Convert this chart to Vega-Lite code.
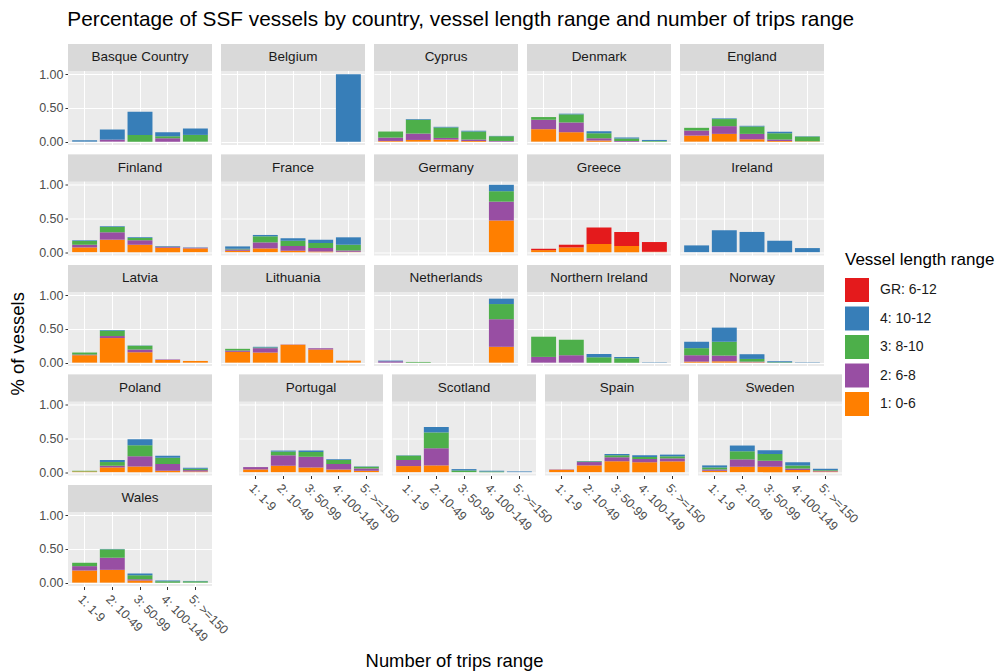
{
"$schema": "https://vega.github.io/schema/vega-lite/v6.json",
"background": "white",
"padding": {"left": 9, "top": 9, "right": 5, "bottom": 5},
"title": {"text": "Percentage of SSF vessels by country, vessel length range and number of trips range", "anchor": "start", "dx": 58, "fontSize": 20.8, "fontWeight": "normal", "font": "Liberation Sans", "color": "#000000", "offset": 13},
"datasets": {"rows": [
{"country":"Basque Country","trips":"1: 1-9","len":"4: 10-12","pct":0.02},
{"country":"Basque Country","trips":"2: 10-49","len":"2: 6-8","pct":0.03},
{"country":"Basque Country","trips":"2: 10-49","len":"4: 10-12","pct":0.15},
{"country":"Basque Country","trips":"3: 50-99","len":"3: 8-10","pct":0.10},
{"country":"Basque Country","trips":"3: 50-99","len":"4: 10-12","pct":0.345},
{"country":"Basque Country","trips":"4: 100-149","len":"2: 6-8","pct":0.05},
{"country":"Basque Country","trips":"4: 100-149","len":"3: 8-10","pct":0.03},
{"country":"Basque Country","trips":"4: 100-149","len":"4: 10-12","pct":0.06},
{"country":"Basque Country","trips":"5: >=150","len":"3: 8-10","pct":0.10},
{"country":"Basque Country","trips":"5: >=150","len":"4: 10-12","pct":0.095},
{"country":"Belgium","trips":"5: >=150","len":"4: 10-12","pct":1.0},
{"country":"Cyprus","trips":"1: 1-9","len":"1: 0-6","pct":0.01},
{"country":"Cyprus","trips":"1: 1-9","len":"2: 6-8","pct":0.05},
{"country":"Cyprus","trips":"1: 1-9","len":"3: 8-10","pct":0.09},
{"country":"Cyprus","trips":"2: 10-49","len":"1: 0-6","pct":0.025},
{"country":"Cyprus","trips":"2: 10-49","len":"2: 6-8","pct":0.095},
{"country":"Cyprus","trips":"2: 10-49","len":"3: 8-10","pct":0.205},
{"country":"Cyprus","trips":"2: 10-49","len":"4: 10-12","pct":0.01},
{"country":"Cyprus","trips":"3: 50-99","len":"1: 0-6","pct":0.03},
{"country":"Cyprus","trips":"3: 50-99","len":"2: 6-8","pct":0.025},
{"country":"Cyprus","trips":"3: 50-99","len":"3: 8-10","pct":0.155},
{"country":"Cyprus","trips":"3: 50-99","len":"4: 10-12","pct":0.01},
{"country":"Cyprus","trips":"4: 100-149","len":"1: 0-6","pct":0.01},
{"country":"Cyprus","trips":"4: 100-149","len":"2: 6-8","pct":0.02},
{"country":"Cyprus","trips":"4: 100-149","len":"3: 8-10","pct":0.12},
{"country":"Cyprus","trips":"4: 100-149","len":"4: 10-12","pct":0.01},
{"country":"Cyprus","trips":"5: >=150","len":"2: 6-8","pct":0.01},
{"country":"Cyprus","trips":"5: >=150","len":"3: 8-10","pct":0.07},
{"country":"Cyprus","trips":"5: >=150","len":"4: 10-12","pct":0.005},
{"country":"Denmark","trips":"1: 1-9","len":"1: 0-6","pct":0.185},
{"country":"Denmark","trips":"1: 1-9","len":"2: 6-8","pct":0.14},
{"country":"Denmark","trips":"1: 1-9","len":"3: 8-10","pct":0.04},
{"country":"Denmark","trips":"2: 10-49","len":"1: 0-6","pct":0.14},
{"country":"Denmark","trips":"2: 10-49","len":"2: 6-8","pct":0.145},
{"country":"Denmark","trips":"2: 10-49","len":"3: 8-10","pct":0.12},
{"country":"Denmark","trips":"2: 10-49","len":"4: 10-12","pct":0.01},
{"country":"Denmark","trips":"3: 50-99","len":"1: 0-6","pct":0.015},
{"country":"Denmark","trips":"3: 50-99","len":"2: 6-8","pct":0.035},
{"country":"Denmark","trips":"3: 50-99","len":"3: 8-10","pct":0.075},
{"country":"Denmark","trips":"3: 50-99","len":"4: 10-12","pct":0.03},
{"country":"Denmark","trips":"4: 100-149","len":"2: 6-8","pct":0.01},
{"country":"Denmark","trips":"4: 100-149","len":"3: 8-10","pct":0.035},
{"country":"Denmark","trips":"4: 100-149","len":"4: 10-12","pct":0.015},
{"country":"Denmark","trips":"5: >=150","len":"3: 8-10","pct":0.01},
{"country":"Denmark","trips":"5: >=150","len":"4: 10-12","pct":0.015},
{"country":"England","trips":"1: 1-9","len":"1: 0-6","pct":0.09},
{"country":"England","trips":"1: 1-9","len":"2: 6-8","pct":0.075},
{"country":"England","trips":"1: 1-9","len":"3: 8-10","pct":0.04},
{"country":"England","trips":"2: 10-49","len":"1: 0-6","pct":0.115},
{"country":"England","trips":"2: 10-49","len":"2: 6-8","pct":0.115},
{"country":"England","trips":"2: 10-49","len":"3: 8-10","pct":0.105},
{"country":"England","trips":"2: 10-49","len":"4: 10-12","pct":0.01},
{"country":"England","trips":"3: 50-99","len":"1: 0-6","pct":0.035},
{"country":"England","trips":"3: 50-99","len":"2: 6-8","pct":0.08},
{"country":"England","trips":"3: 50-99","len":"3: 8-10","pct":0.11},
{"country":"England","trips":"3: 50-99","len":"4: 10-12","pct":0.01},
{"country":"England","trips":"4: 100-149","len":"1: 0-6","pct":0.01},
{"country":"England","trips":"4: 100-149","len":"2: 6-8","pct":0.02},
{"country":"England","trips":"4: 100-149","len":"3: 8-10","pct":0.095},
{"country":"England","trips":"4: 100-149","len":"4: 10-12","pct":0.02},
{"country":"England","trips":"5: >=150","len":"1: 0-6","pct":0.005},
{"country":"England","trips":"5: >=150","len":"3: 8-10","pct":0.07},
{"country":"England","trips":"5: >=150","len":"4: 10-12","pct":0.005},
{"country":"Finland","trips":"1: 1-9","len":"1: 0-6","pct":0.07},
{"country":"Finland","trips":"1: 1-9","len":"2: 6-8","pct":0.04},
{"country":"Finland","trips":"1: 1-9","len":"3: 8-10","pct":0.055},
{"country":"Finland","trips":"1: 1-9","len":"4: 10-12","pct":0.01},
{"country":"Finland","trips":"2: 10-49","len":"1: 0-6","pct":0.185},
{"country":"Finland","trips":"2: 10-49","len":"2: 6-8","pct":0.11},
{"country":"Finland","trips":"2: 10-49","len":"3: 8-10","pct":0.08},
{"country":"Finland","trips":"2: 10-49","len":"4: 10-12","pct":0.01},
{"country":"Finland","trips":"3: 50-99","len":"1: 0-6","pct":0.11},
{"country":"Finland","trips":"3: 50-99","len":"2: 6-8","pct":0.065},
{"country":"Finland","trips":"3: 50-99","len":"3: 8-10","pct":0.035},
{"country":"Finland","trips":"3: 50-99","len":"4: 10-12","pct":0.01},
{"country":"Finland","trips":"4: 100-149","len":"1: 0-6","pct":0.065},
{"country":"Finland","trips":"4: 100-149","len":"2: 6-8","pct":0.015},
{"country":"Finland","trips":"4: 100-149","len":"3: 8-10","pct":0.005},
{"country":"Finland","trips":"4: 100-149","len":"4: 10-12","pct":0.005},
{"country":"Finland","trips":"5: >=150","len":"1: 0-6","pct":0.055},
{"country":"Finland","trips":"5: >=150","len":"2: 6-8","pct":0.01},
{"country":"Finland","trips":"5: >=150","len":"4: 10-12","pct":0.005},
{"country":"France","trips":"1: 1-9","len":"1: 0-6","pct":0.02},
{"country":"France","trips":"1: 1-9","len":"2: 6-8","pct":0.02},
{"country":"France","trips":"1: 1-9","len":"3: 8-10","pct":0.01},
{"country":"France","trips":"1: 1-9","len":"4: 10-12","pct":0.035},
{"country":"France","trips":"2: 10-49","len":"1: 0-6","pct":0.055},
{"country":"France","trips":"2: 10-49","len":"2: 6-8","pct":0.09},
{"country":"France","trips":"2: 10-49","len":"3: 8-10","pct":0.09},
{"country":"France","trips":"2: 10-49","len":"4: 10-12","pct":0.02},
{"country":"France","trips":"3: 50-99","len":"1: 0-6","pct":0.02},
{"country":"France","trips":"3: 50-99","len":"2: 6-8","pct":0.07},
{"country":"France","trips":"3: 50-99","len":"3: 8-10","pct":0.08},
{"country":"France","trips":"3: 50-99","len":"4: 10-12","pct":0.035},
{"country":"France","trips":"4: 100-149","len":"1: 0-6","pct":0.01},
{"country":"France","trips":"4: 100-149","len":"2: 6-8","pct":0.05},
{"country":"France","trips":"4: 100-149","len":"3: 8-10","pct":0.075},
{"country":"France","trips":"4: 100-149","len":"4: 10-12","pct":0.05},
{"country":"France","trips":"5: >=150","len":"1: 0-6","pct":0.005},
{"country":"France","trips":"5: >=150","len":"2: 6-8","pct":0.02},
{"country":"France","trips":"5: >=150","len":"3: 8-10","pct":0.085},
{"country":"France","trips":"5: >=150","len":"4: 10-12","pct":0.11},
{"country":"Germany","trips":"5: >=150","len":"1: 0-6","pct":0.47},
{"country":"Germany","trips":"5: >=150","len":"2: 6-8","pct":0.28},
{"country":"Germany","trips":"5: >=150","len":"3: 8-10","pct":0.155},
{"country":"Germany","trips":"5: >=150","len":"4: 10-12","pct":0.095},
{"country":"Greece","trips":"1: 1-9","len":"1: 0-6","pct":0.03},
{"country":"Greece","trips":"1: 1-9","len":"GR: 6-12","pct":0.02},
{"country":"Greece","trips":"2: 10-49","len":"1: 0-6","pct":0.07},
{"country":"Greece","trips":"2: 10-49","len":"GR: 6-12","pct":0.04},
{"country":"Greece","trips":"3: 50-99","len":"1: 0-6","pct":0.12},
{"country":"Greece","trips":"3: 50-99","len":"GR: 6-12","pct":0.245},
{"country":"Greece","trips":"4: 100-149","len":"1: 0-6","pct":0.09},
{"country":"Greece","trips":"4: 100-149","len":"GR: 6-12","pct":0.21},
{"country":"Greece","trips":"5: >=150","len":"1: 0-6","pct":0.005},
{"country":"Greece","trips":"5: >=150","len":"GR: 6-12","pct":0.145},
{"country":"Ireland","trips":"1: 1-9","len":"4: 10-12","pct":0.10},
{"country":"Ireland","trips":"2: 10-49","len":"4: 10-12","pct":0.325},
{"country":"Ireland","trips":"3: 50-99","len":"4: 10-12","pct":0.30},
{"country":"Ireland","trips":"4: 100-149","len":"4: 10-12","pct":0.17},
{"country":"Ireland","trips":"5: >=150","len":"4: 10-12","pct":0.06},
{"country":"Latvia","trips":"1: 1-9","len":"1: 0-6","pct":0.11},
{"country":"Latvia","trips":"1: 1-9","len":"2: 6-8","pct":0.01},
{"country":"Latvia","trips":"1: 1-9","len":"3: 8-10","pct":0.03},
{"country":"Latvia","trips":"2: 10-49","len":"1: 0-6","pct":0.365},
{"country":"Latvia","trips":"2: 10-49","len":"2: 6-8","pct":0.03},
{"country":"Latvia","trips":"2: 10-49","len":"3: 8-10","pct":0.08},
{"country":"Latvia","trips":"2: 10-49","len":"4: 10-12","pct":0.01},
{"country":"Latvia","trips":"3: 50-99","len":"1: 0-6","pct":0.155},
{"country":"Latvia","trips":"3: 50-99","len":"2: 6-8","pct":0.04},
{"country":"Latvia","trips":"3: 50-99","len":"3: 8-10","pct":0.055},
{"country":"Latvia","trips":"3: 50-99","len":"4: 10-12","pct":0.005},
{"country":"Latvia","trips":"4: 100-149","len":"1: 0-6","pct":0.04},
{"country":"Latvia","trips":"4: 100-149","len":"2: 6-8","pct":0.005},
{"country":"Latvia","trips":"5: >=150","len":"1: 0-6","pct":0.025},
{"country":"Lithuania","trips":"1: 1-9","len":"1: 0-6","pct":0.16},
{"country":"Lithuania","trips":"1: 1-9","len":"2: 6-8","pct":0.02},
{"country":"Lithuania","trips":"1: 1-9","len":"3: 8-10","pct":0.025},
{"country":"Lithuania","trips":"2: 10-49","len":"1: 0-6","pct":0.15},
{"country":"Lithuania","trips":"2: 10-49","len":"2: 6-8","pct":0.065},
{"country":"Lithuania","trips":"2: 10-49","len":"3: 8-10","pct":0.01},
{"country":"Lithuania","trips":"2: 10-49","len":"4: 10-12","pct":0.01},
{"country":"Lithuania","trips":"3: 50-99","len":"1: 0-6","pct":0.265},
{"country":"Lithuania","trips":"3: 50-99","len":"2: 6-8","pct":0.005},
{"country":"Lithuania","trips":"4: 100-149","len":"1: 0-6","pct":0.195},
{"country":"Lithuania","trips":"4: 100-149","len":"2: 6-8","pct":0.02},
{"country":"Lithuania","trips":"5: >=150","len":"1: 0-6","pct":0.03},
{"country":"Netherlands","trips":"1: 1-9","len":"2: 6-8","pct":0.02},
{"country":"Netherlands","trips":"1: 1-9","len":"4: 10-12","pct":0.01},
{"country":"Netherlands","trips":"2: 10-49","len":"3: 8-10","pct":0.01},
{"country":"Netherlands","trips":"5: >=150","len":"1: 0-6","pct":0.235},
{"country":"Netherlands","trips":"5: >=150","len":"2: 6-8","pct":0.41},
{"country":"Netherlands","trips":"5: >=150","len":"3: 8-10","pct":0.225},
{"country":"Netherlands","trips":"5: >=150","len":"4: 10-12","pct":0.08},
{"country":"Northern Ireland","trips":"1: 1-9","len":"2: 6-8","pct":0.085},
{"country":"Northern Ireland","trips":"1: 1-9","len":"3: 8-10","pct":0.30},
{"country":"Northern Ireland","trips":"2: 10-49","len":"2: 6-8","pct":0.11},
{"country":"Northern Ireland","trips":"2: 10-49","len":"3: 8-10","pct":0.23},
{"country":"Northern Ireland","trips":"3: 50-99","len":"3: 8-10","pct":0.08},
{"country":"Northern Ireland","trips":"3: 50-99","len":"4: 10-12","pct":0.05},
{"country":"Northern Ireland","trips":"4: 100-149","len":"3: 8-10","pct":0.065},
{"country":"Northern Ireland","trips":"4: 100-149","len":"4: 10-12","pct":0.02},
{"country":"Northern Ireland","trips":"5: >=150","len":"4: 10-12","pct":0.005},
{"country":"Norway","trips":"1: 1-9","len":"1: 0-6","pct":0.015},
{"country":"Norway","trips":"1: 1-9","len":"2: 6-8","pct":0.095},
{"country":"Norway","trips":"1: 1-9","len":"3: 8-10","pct":0.105},
{"country":"Norway","trips":"1: 1-9","len":"4: 10-12","pct":0.095},
{"country":"Norway","trips":"2: 10-49","len":"1: 0-6","pct":0.02},
{"country":"Norway","trips":"2: 10-49","len":"2: 6-8","pct":0.085},
{"country":"Norway","trips":"2: 10-49","len":"3: 8-10","pct":0.205},
{"country":"Norway","trips":"2: 10-49","len":"4: 10-12","pct":0.21},
{"country":"Norway","trips":"3: 50-99","len":"1: 0-6","pct":0.005},
{"country":"Norway","trips":"3: 50-99","len":"2: 6-8","pct":0.01},
{"country":"Norway","trips":"3: 50-99","len":"3: 8-10","pct":0.04},
{"country":"Norway","trips":"3: 50-99","len":"4: 10-12","pct":0.07},
{"country":"Norway","trips":"4: 100-149","len":"3: 8-10","pct":0.005},
{"country":"Norway","trips":"4: 100-149","len":"4: 10-12","pct":0.015},
{"country":"Norway","trips":"5: >=150","len":"4: 10-12","pct":0.005},
{"country":"Poland","trips":"1: 1-9","len":"1: 0-6","pct":0.01},
{"country":"Poland","trips":"1: 1-9","len":"3: 8-10","pct":0.01},
{"country":"Poland","trips":"2: 10-49","len":"1: 0-6","pct":0.07},
{"country":"Poland","trips":"2: 10-49","len":"2: 6-8","pct":0.025},
{"country":"Poland","trips":"2: 10-49","len":"3: 8-10","pct":0.055},
{"country":"Poland","trips":"2: 10-49","len":"4: 10-12","pct":0.03},
{"country":"Poland","trips":"3: 50-99","len":"1: 0-6","pct":0.085},
{"country":"Poland","trips":"3: 50-99","len":"2: 6-8","pct":0.15},
{"country":"Poland","trips":"3: 50-99","len":"3: 8-10","pct":0.165},
{"country":"Poland","trips":"3: 50-99","len":"4: 10-12","pct":0.09},
{"country":"Poland","trips":"4: 100-149","len":"1: 0-6","pct":0.02},
{"country":"Poland","trips":"4: 100-149","len":"2: 6-8","pct":0.10},
{"country":"Poland","trips":"4: 100-149","len":"3: 8-10","pct":0.095},
{"country":"Poland","trips":"4: 100-149","len":"4: 10-12","pct":0.03},
{"country":"Poland","trips":"5: >=150","len":"1: 0-6","pct":0.01},
{"country":"Poland","trips":"5: >=150","len":"2: 6-8","pct":0.02},
{"country":"Poland","trips":"5: >=150","len":"3: 8-10","pct":0.02},
{"country":"Poland","trips":"5: >=150","len":"4: 10-12","pct":0.015},
{"country":"Portugal","trips":"1: 1-9","len":"1: 0-6","pct":0.04},
{"country":"Portugal","trips":"1: 1-9","len":"2: 6-8","pct":0.035},
{"country":"Portugal","trips":"2: 10-49","len":"1: 0-6","pct":0.095},
{"country":"Portugal","trips":"2: 10-49","len":"2: 6-8","pct":0.155},
{"country":"Portugal","trips":"2: 10-49","len":"3: 8-10","pct":0.055},
{"country":"Portugal","trips":"2: 10-49","len":"4: 10-12","pct":0.015},
{"country":"Portugal","trips":"3: 50-99","len":"1: 0-6","pct":0.07},
{"country":"Portugal","trips":"3: 50-99","len":"2: 6-8","pct":0.16},
{"country":"Portugal","trips":"3: 50-99","len":"3: 8-10","pct":0.07},
{"country":"Portugal","trips":"3: 50-99","len":"4: 10-12","pct":0.02},
{"country":"Portugal","trips":"4: 100-149","len":"1: 0-6","pct":0.04},
{"country":"Portugal","trips":"4: 100-149","len":"2: 6-8","pct":0.08},
{"country":"Portugal","trips":"4: 100-149","len":"3: 8-10","pct":0.06},
{"country":"Portugal","trips":"4: 100-149","len":"4: 10-12","pct":0.01},
{"country":"Portugal","trips":"5: >=150","len":"1: 0-6","pct":0.02},
{"country":"Portugal","trips":"5: >=150","len":"2: 6-8","pct":0.035},
{"country":"Portugal","trips":"5: >=150","len":"3: 8-10","pct":0.025},
{"country":"Portugal","trips":"5: >=150","len":"4: 10-12","pct":0.005},
{"country":"Scotland","trips":"1: 1-9","len":"1: 0-6","pct":0.09},
{"country":"Scotland","trips":"1: 1-9","len":"2: 6-8","pct":0.09},
{"country":"Scotland","trips":"1: 1-9","len":"3: 8-10","pct":0.065},
{"country":"Scotland","trips":"1: 1-9","len":"4: 10-12","pct":0.005},
{"country":"Scotland","trips":"2: 10-49","len":"1: 0-6","pct":0.10},
{"country":"Scotland","trips":"2: 10-49","len":"2: 6-8","pct":0.255},
{"country":"Scotland","trips":"2: 10-49","len":"3: 8-10","pct":0.235},
{"country":"Scotland","trips":"2: 10-49","len":"4: 10-12","pct":0.08},
{"country":"Scotland","trips":"3: 50-99","len":"3: 8-10","pct":0.025},
{"country":"Scotland","trips":"3: 50-99","len":"4: 10-12","pct":0.02},
{"country":"Scotland","trips":"4: 100-149","len":"3: 8-10","pct":0.01},
{"country":"Scotland","trips":"4: 100-149","len":"4: 10-12","pct":0.01},
{"country":"Scotland","trips":"5: >=150","len":"4: 10-12","pct":0.01},
{"country":"Spain","trips":"1: 1-9","len":"1: 0-6","pct":0.035},
{"country":"Spain","trips":"1: 1-9","len":"2: 6-8","pct":0.005},
{"country":"Spain","trips":"2: 10-49","len":"1: 0-6","pct":0.10},
{"country":"Spain","trips":"2: 10-49","len":"2: 6-8","pct":0.05},
{"country":"Spain","trips":"2: 10-49","len":"3: 8-10","pct":0.01},
{"country":"Spain","trips":"2: 10-49","len":"4: 10-12","pct":0.005},
{"country":"Spain","trips":"3: 50-99","len":"1: 0-6","pct":0.16},
{"country":"Spain","trips":"3: 50-99","len":"2: 6-8","pct":0.06},
{"country":"Spain","trips":"3: 50-99","len":"3: 8-10","pct":0.03},
{"country":"Spain","trips":"3: 50-99","len":"4: 10-12","pct":0.02},
{"country":"Spain","trips":"4: 100-149","len":"1: 0-6","pct":0.145},
{"country":"Spain","trips":"4: 100-149","len":"2: 6-8","pct":0.05},
{"country":"Spain","trips":"4: 100-149","len":"3: 8-10","pct":0.03},
{"country":"Spain","trips":"4: 100-149","len":"4: 10-12","pct":0.025},
{"country":"Spain","trips":"5: >=150","len":"1: 0-6","pct":0.16},
{"country":"Spain","trips":"5: >=150","len":"2: 6-8","pct":0.045},
{"country":"Spain","trips":"5: >=150","len":"3: 8-10","pct":0.03},
{"country":"Spain","trips":"5: >=150","len":"4: 10-12","pct":0.025},
{"country":"Sweden","trips":"1: 1-9","len":"1: 0-6","pct":0.02},
{"country":"Sweden","trips":"1: 1-9","len":"2: 6-8","pct":0.02},
{"country":"Sweden","trips":"1: 1-9","len":"3: 8-10","pct":0.03},
{"country":"Sweden","trips":"1: 1-9","len":"4: 10-12","pct":0.03},
{"country":"Sweden","trips":"2: 10-49","len":"1: 0-6","pct":0.08},
{"country":"Sweden","trips":"2: 10-49","len":"2: 6-8","pct":0.11},
{"country":"Sweden","trips":"2: 10-49","len":"3: 8-10","pct":0.12},
{"country":"Sweden","trips":"2: 10-49","len":"4: 10-12","pct":0.085},
{"country":"Sweden","trips":"3: 50-99","len":"1: 0-6","pct":0.08},
{"country":"Sweden","trips":"3: 50-99","len":"2: 6-8","pct":0.09},
{"country":"Sweden","trips":"3: 50-99","len":"3: 8-10","pct":0.10},
{"country":"Sweden","trips":"3: 50-99","len":"4: 10-12","pct":0.055},
{"country":"Sweden","trips":"4: 100-149","len":"1: 0-6","pct":0.03},
{"country":"Sweden","trips":"4: 100-149","len":"2: 6-8","pct":0.025},
{"country":"Sweden","trips":"4: 100-149","len":"3: 8-10","pct":0.045},
{"country":"Sweden","trips":"4: 100-149","len":"4: 10-12","pct":0.045},
{"country":"Sweden","trips":"5: >=150","len":"1: 0-6","pct":0.01},
{"country":"Sweden","trips":"5: >=150","len":"2: 6-8","pct":0.01},
{"country":"Sweden","trips":"5: >=150","len":"3: 8-10","pct":0.01},
{"country":"Sweden","trips":"5: >=150","len":"4: 10-12","pct":0.02},
{"country":"Wales","trips":"1: 1-9","len":"1: 0-6","pct":0.18},
{"country":"Wales","trips":"1: 1-9","len":"2: 6-8","pct":0.065},
{"country":"Wales","trips":"1: 1-9","len":"3: 8-10","pct":0.05},
{"country":"Wales","trips":"2: 10-49","len":"1: 0-6","pct":0.19},
{"country":"Wales","trips":"2: 10-49","len":"2: 6-8","pct":0.18},
{"country":"Wales","trips":"2: 10-49","len":"3: 8-10","pct":0.125},
{"country":"Wales","trips":"2: 10-49","len":"4: 10-12","pct":0.005},
{"country":"Wales","trips":"3: 50-99","len":"1: 0-6","pct":0.03},
{"country":"Wales","trips":"3: 50-99","len":"2: 6-8","pct":0.02},
{"country":"Wales","trips":"3: 50-99","len":"3: 8-10","pct":0.06},
{"country":"Wales","trips":"3: 50-99","len":"4: 10-12","pct":0.025},
{"country":"Wales","trips":"4: 100-149","len":"3: 8-10","pct":0.02},
{"country":"Wales","trips":"4: 100-149","len":"4: 10-12","pct":0.01},
{"country":"Wales","trips":"5: >=150","len":"3: 8-10","pct":0.02},
{"country":"Wales","trips":"5: >=150","len":"4: 10-12","pct":0.005}
]},
"vconcat": [{
 "title": {"text": "Number of trips range", "orient": "bottom", "anchor": "middle", "dx": 20, "fontSize": 18.4, "fontWeight": "normal", "font": "Liberation Sans", "color": "#000000", "offset": 8},
 "vconcat": [{
  "title": {"text": "% of vessels", "orient": "left", "anchor": "middle", "fontSize": 18.4, "fontWeight": "normal", "font": "Liberation Sans", "color": "#000000", "offset": 11},
  "spacing": 4.5,
  "vconcat": [
   {
    "data": {"name": "rows"},
    "transform": [{"filter": {"field": "country", "oneOf": ["Basque Country","Belgium","Cyprus","Denmark","England","Finland","France","Germany","Greece","Ireland","Latvia","Lithuania","Netherlands","Northern Ireland","Norway"]}}],
    "facet": {"field": "country", "type": "nominal", "header": {"title": null, "labels": false, "labelExpr": "''", "labelFontSize": 0, "labelPadding": 0}},
    "columns": 5,
    "spacing": {"row": 9.5, "column": 9},
    "spec": {
      "width": 144, "height": 101,
      "layer": [
        {"mark": {"type": "bar"},
         "encoding": {
          "x": {"field": "trips", "type": "nominal",
            "scale": {"domain": ["1: 1-9", "2: 10-49", "3: 50-99", "4: 100-149", "5: >=150"], "paddingInner": 0.1, "paddingOuter": 0.15},
            "axis": {"title": null, "labels": false, "ticks": false, "bandPosition": 0.5, "grid": true, "gridColor": "#FFFFFF", "gridWidth": 1.1, "domain": false}},
          "y": {"field": "pct", "type": "quantitative", "stack": "zero",
            "scale": {"domain": [-0.05, 1.45], "nice": false, "zero": false},
            "axis": {"title": null, "values": [0, 0.125, 0.25, 0.375, 0.5, 0.625, 0.75, 0.875, 1],
              "labelExpr": "(datum.value*8)%2==0 ? format(datum.value, '.2f') : ''",
              "labelOverlap": false,
              "labelFontSize": {"condition": {"test": "(datum.value*8)%2==0", "value": 12.5}, "value": 0},
              "tickOpacity": {"condition": {"test": "(datum.value*8)%2==0", "value": 1}, "value": 0},
              "gridWidth": {"condition": {"test": "(datum.value*8)%2==0", "value": 1.1}, "value": 0.55},
              "gridColor": "#FFFFFF", "domain": false, "tickSize": 3, "tickColor": "#333333", "labelColor": "#4D4D4D", "labelFont": "Liberation Sans", "labelPadding": 2}},
          "color": {"field": "len", "type": "nominal",
            "scale": {"domain": ["GR: 6-12", "4: 10-12", "3: 8-10", "2: 6-8", "1: 0-6"], "range": ["#E41A1C", "#377EB8", "#4DAF4A", "#984EA3", "#FF7F00"]},
            "legend": {"title": "Vessel length range", "orient": "none", "legendX": 777, "legendY": 208, "symbolType": "square", "symbolSize": 576, "symbolStrokeWidth": 0, "rowPadding": 4.5, "labelFontSize": 14, "labelFont": "Liberation Sans", "labelColor": "#1A1A1A", "titleFontSize": 17, "titleFontWeight": "normal", "titleFont": "Liberation Sans", "titleColor": "#000000", "titlePadding": 9, "labelOffset": 11}},
          "order": {"field": "len", "sort": "ascending"}}},
        {"transform": [{"aggregate": [{"op": "count", "as": "n"}], "groupby": ["country"]}],
         "mark": {"type": "rect", "color": "#D9D9D9"},
         "encoding": {"y": {"datum": 1.05}, "y2": {"datum": 1.45}}},
        {"transform": [{"aggregate": [{"op": "count", "as": "n"}], "groupby": ["country"]}],
         "mark": {"type": "text", "fontSize": 13.5, "color": "#1A1A1A", "font": "Liberation Sans", "baseline": "middle"},
         "encoding": {"y": {"datum": 1.25}, "text": {"field": "country"}}}
      ]
    }
   },
   {
    "spacing": 9,
    "hconcat": [
     {
      "data": {"name": "rows"},
      "transform": [{"filter": {"field": "country", "oneOf": ["Poland", "Wales"]}}],
      "facet": {"field": "country", "type": "nominal", "header": {"title": null, "labels": false, "labelExpr": "''", "labelFontSize": 0, "labelPadding": 0}},
      "columns": 1,
      "spacing": {"row": 9.5, "column": 9},
      "spec": {
        "width": 144, "height": 101,
        "layer": [
          {"mark": {"type": "bar"},
           "encoding": {
            "x": {"field": "trips", "type": "nominal",
              "scale": {"domain": ["1: 1-9", "2: 10-49", "3: 50-99", "4: 100-149", "5: >=150"], "paddingInner": 0.1, "paddingOuter": 0.15},
              "axis": {"title": null, "labelAngle": 45, "labelAlign": "left", "labelBaseline": "top", "bandPosition": 0.5, "grid": true, "gridColor": "#FFFFFF", "gridWidth": 1.1, "domain": false, "tickSize": 3, "tickColor": "#333333", "labelFontSize": 12.5, "labelColor": "#4D4D4D", "labelFont": "Liberation Sans", "labelPadding": 3, "labelOverlap": false}},
            "y": {"field": "pct", "type": "quantitative", "stack": "zero",
              "scale": {"domain": [-0.05, 1.45], "nice": false, "zero": false},
              "axis": {"title": null, "values": [0, 0.125, 0.25, 0.375, 0.5, 0.625, 0.75, 0.875, 1],
                "labelExpr": "(datum.value*8)%2==0 ? format(datum.value, '.2f') : ''",
                "labelOverlap": false,
                "labelFontSize": {"condition": {"test": "(datum.value*8)%2==0", "value": 12.5}, "value": 0},
                "tickOpacity": {"condition": {"test": "(datum.value*8)%2==0", "value": 1}, "value": 0},
                "gridWidth": {"condition": {"test": "(datum.value*8)%2==0", "value": 1.1}, "value": 0.55},
                "gridColor": "#FFFFFF", "domain": false, "tickSize": 3, "tickColor": "#333333", "labelColor": "#4D4D4D", "labelFont": "Liberation Sans", "labelPadding": 2}},
            "color": {"field": "len", "type": "nominal",
              "scale": {"domain": ["GR: 6-12", "4: 10-12", "3: 8-10", "2: 6-8", "1: 0-6"], "range": ["#E41A1C", "#377EB8", "#4DAF4A", "#984EA3", "#FF7F00"]},
              "legend": null},
            "order": {"field": "len", "sort": "ascending"}}},
          {"transform": [{"aggregate": [{"op": "count", "as": "n"}], "groupby": ["country"]}],
           "mark": {"type": "rect", "color": "#D9D9D9"},
           "encoding": {"y": {"datum": 1.05}, "y2": {"datum": 1.45}}},
          {"transform": [{"aggregate": [{"op": "count", "as": "n"}], "groupby": ["country"]}],
           "mark": {"type": "text", "fontSize": 13.5, "color": "#1A1A1A", "font": "Liberation Sans", "baseline": "middle"},
           "encoding": {"y": {"datum": 1.25}, "text": {"field": "country"}}}
        ]
      }
     },
     {
      "data": {"name": "rows"},
      "transform": [{"filter": {"field": "country", "oneOf": ["Portugal", "Scotland", "Spain", "Sweden"]}}],
      "facet": {"field": "country", "type": "nominal", "header": {"title": null, "labels": false, "labelExpr": "''", "labelFontSize": 0, "labelPadding": 0}},
      "columns": 4,
      "spacing": {"row": 9.5, "column": 9},
      "spec": {
        "width": 144, "height": 101,
        "layer": [
          {"mark": {"type": "bar"},
           "encoding": {
            "x": {"field": "trips", "type": "nominal",
              "scale": {"domain": ["1: 1-9", "2: 10-49", "3: 50-99", "4: 100-149", "5: >=150"], "paddingInner": 0.1, "paddingOuter": 0.15},
              "axis": {"title": null, "labelAngle": 45, "labelAlign": "left", "labelBaseline": "top", "bandPosition": 0.5, "grid": true, "gridColor": "#FFFFFF", "gridWidth": 1.1, "domain": false, "tickSize": 3, "tickColor": "#333333", "labelFontSize": 12.5, "labelColor": "#4D4D4D", "labelFont": "Liberation Sans", "labelPadding": 3, "labelOverlap": false}},
            "y": {"field": "pct", "type": "quantitative", "stack": "zero",
              "scale": {"domain": [-0.05, 1.45], "nice": false, "zero": false},
              "axis": {"title": null, "orient": "right", "values": [0, 0.125, 0.25, 0.375, 0.5, 0.625, 0.75, 0.875, 1],
                "labels": false, "ticks": false, "minExtent": 0, "maxExtent": 0,
                "gridWidth": {"condition": {"test": "(datum.value*8)%2==0", "value": 1.1}, "value": 0.55},
                "gridColor": "#FFFFFF", "domain": false}},
            "color": {"field": "len", "type": "nominal",
              "scale": {"domain": ["GR: 6-12", "4: 10-12", "3: 8-10", "2: 6-8", "1: 0-6"], "range": ["#E41A1C", "#377EB8", "#4DAF4A", "#984EA3", "#FF7F00"]},
              "legend": null},
            "order": {"field": "len", "sort": "ascending"}}},
          {"transform": [{"aggregate": [{"op": "count", "as": "n"}], "groupby": ["country"]}],
           "mark": {"type": "rect", "color": "#D9D9D9"},
           "encoding": {"y": {"datum": 1.05}, "y2": {"datum": 1.45}}},
          {"transform": [{"aggregate": [{"op": "count", "as": "n"}], "groupby": ["country"]}],
           "mark": {"type": "text", "fontSize": 13.5, "color": "#1A1A1A", "font": "Liberation Sans", "baseline": "middle"},
           "encoding": {"y": {"datum": 1.25}, "text": {"field": "country"}}}
        ]
      }
     }
    ]
   }
  ]
 }]
}],
"config": {"view": {"fill": "#EBEBEB", "stroke": null}, "axis": {"labelOverlap": false}, "header": {"labels": false, "title": null}, "headerFacet": {"labels": false, "title": null, "labelExpr": "''", "labelFontSize": 0, "labelPadding": 0}}
}
